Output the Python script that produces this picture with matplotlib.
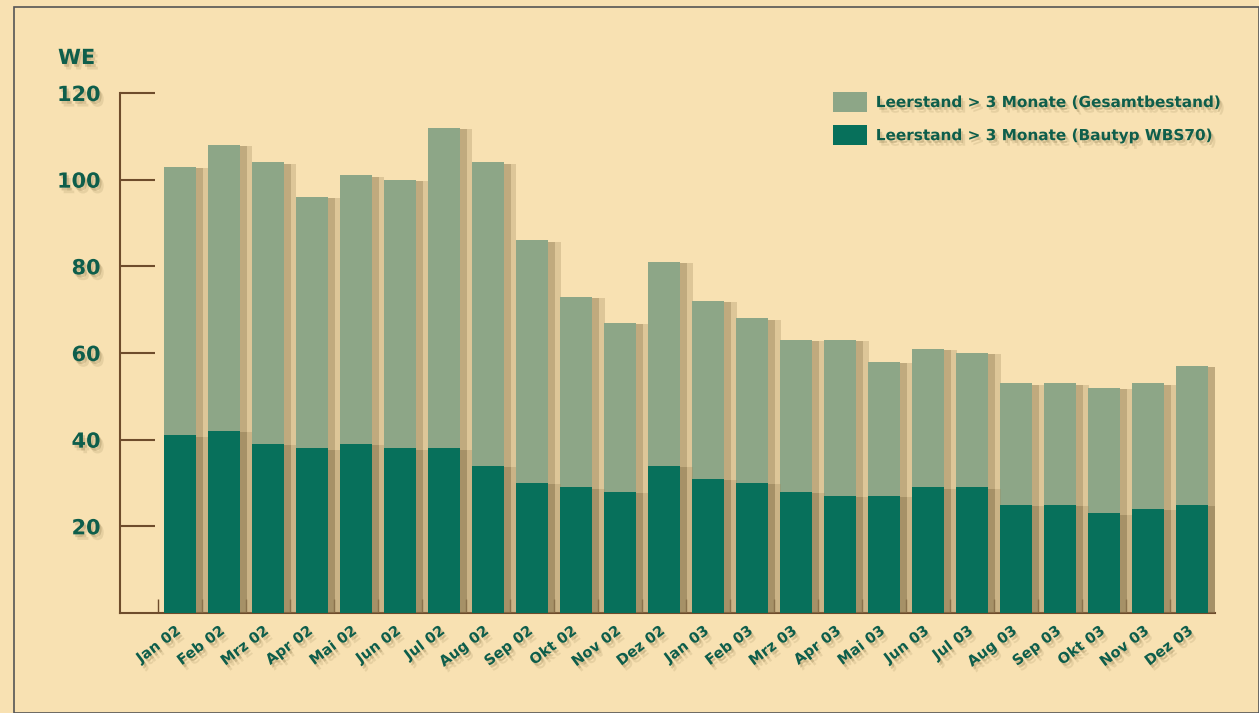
import matplotlib.pyplot as plt
import matplotlib.patheffects as pe
from matplotlib.patches import Rectangle, Patch
import numpy as np

months = ["Jan 02", "Feb 02", "Mrz 02", "Apr 02", "Mai 02", "Jun 02", "Jul 02", "Aug 02",
          "Sep 02", "Okt 02", "Nov 02", "Dez 02", "Jan 03", "Feb 03", "Mrz 03", "Apr 03",
          "Mai 03", "Jun 03", "Jul 03", "Aug 03", "Sep 03", "Okt 03", "Nov 03", "Dez 03"]
gesamt = [103, 108, 104, 96, 101, 100, 112, 104, 86, 73, 67, 81,
          72, 68, 63, 63, 58, 61, 60, 53, 53, 52, 53, 57]
wbs70 = [41, 42, 39, 38, 39, 38, 38, 34, 30, 29, 28, 34,
         31, 30, 28, 27, 27, 29, 29, 25, 25, 23, 24, 25]
yticks = [20, 40, 60, 80, 100, 120]

bg = "#f8e1b2"
light = "#8da687"
dark = "#07705b"
txt = "#0e5e4b"
axcol = "#6e4c2c"

txt_fx = [pe.SimplePatchShadow(offset=(3, -4), shadow_rgbFace="#6b5a2e", alpha=0.12),
          pe.SimplePatchShadow(offset=(1.5, -2), shadow_rgbFace="#6b5a2e", alpha=0.22),
          pe.Normal()]
bar_fx = [pe.SimplePatchShadow(offset=(9, -1), shadow_rgbFace="#a08a5e", alpha=0.3),
          pe.SimplePatchShadow(offset=(5, -1), shadow_rgbFace="#8a7650", alpha=0.35),
          pe.Normal()]

fig = plt.figure(figsize=(12.59, 7.13), dpi=100, facecolor=bg)
fig.patches.append(Rectangle((14 / 1259, 0), 1 - 14 / 1259, 1 - 7 / 713, transform=fig.transFigure,
                             fill=False, edgecolor="#555555", linewidth=1.2))

ax = fig.add_axes([120 / 1259, 100 / 713, 1095 / 1259, 520 / 713])
ax.set_facecolor(bg)

x = np.arange(len(months))
b1 = ax.bar(x, gesamt, width=0.73, color=light, zorder=2)
b2 = ax.bar(x, wbs70, width=0.73, color=dark, zorder=3)
for r in list(b1) + list(b2):
    r.set_path_effects(bar_fx)

ax.set_xlim(-1.36, 23.52)
ax.set_ylim(0, 120)

for s in ["top", "right"]:
    ax.spines[s].set_visible(False)
for s in ["left", "bottom"]:
    ax.spines[s].set_color(axcol)
    ax.spines[s].set_linewidth(1.5)

ax.set_yticks(yticks)
ax.tick_params(axis="y", direction="in", length=25, width=1.5, color=axcol, pad=14)
for lbl in ax.set_yticklabels([str(v) for v in yticks]):
    lbl.set_fontsize(15)
    lbl.set_fontweight("bold")
    lbl.set_color(txt)
    lbl.set_path_effects(txt_fx)

ax.set_xticks(x - 0.5, minor=True)
ax.set_xticks(x - 0.12)
ax.tick_params(axis="x", which="minor", direction="in", length=10, width=1, color=axcol)
ax.tick_params(axis="x", which="major", length=0, pad=7)
ax.set_xticklabels(months, rotation=37, ha="right", va="top", rotation_mode="anchor",
                   fontsize=10.5, fontweight="bold", color=txt)
for lbl in ax.get_xticklabels():
    lbl.set_path_effects(txt_fx)

fig.text(58 / 1259, 1 - 58 / 713, "WE", fontsize=15, fontweight="bold", color=txt,
         va="center", ha="left", path_effects=txt_fx)

handles = [Patch(facecolor=light, label="Leerstand > 3 Monate (Gesamtbestand)"),
           Patch(facecolor=dark, label="Leerstand > 3 Monate (Bautyp WBS70)")]
leg = ax.legend(handles=handles, loc="upper left", bbox_to_anchor=(833 / 1259, 1 - 92 / 713),
                bbox_transform=fig.transFigure, frameon=False, borderpad=0, borderaxespad=0,
                handlelength=2.2, handleheight=1.65, labelspacing=0.85, handletextpad=0.6,
                prop={"size": 11, "weight": "bold"})
for t in leg.get_texts():
    t.set_color(txt)
    t.set_path_effects(txt_fx)

fig.savefig("out.png", dpi=100, facecolor=bg)
